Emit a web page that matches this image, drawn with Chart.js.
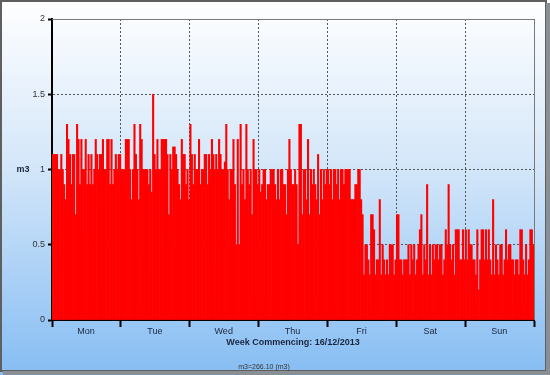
<!DOCTYPE html>
<html>
<head>
<meta charset="utf-8">
<script src="https://cdn.jsdelivr.net/npm/chart.js@4.4.0/dist/chart.umd.min.js"></script>
<style>
  html, body { margin: 0; padding: 0; background: #fff; }
  #wrap { width: 550px; height: 375px; }
</style>
</head>
<body>
<div id="wrap"><canvas id="myChart" width="550" height="375"></canvas></div>
<script>
// half-hourly readings (m3), 48 per day
let dayNames = ["Mon", "Tue", "Wed", "Thu", "Fri", "Sat", "Sun"];
let mon = [1.1,1.1,1.1,1.1,1.0,1.0,1.1,1.0,0.9,0.8,1.3,1.2,1.1,0.9,1.1,1.1,0.7,1.3,1.2,0.9,1.2,1.0,1.0,1.2,
    0.9,1.1,0.9,1.1,0.9,1.0,1.2,1.1,1.0,1.1,1.1,1.2,1.0,1.0,1.2,1.2,0.9,1.2,0.9,1.0,1.1,1.0,1.1,1.1];
let tue = [1.0,1.0,1.0,1.2,1.2,1.2,1.0,0.8,1.0,1.3,1.1,1.0,0.8,1.3,1.2,1.0,1.0,1.0,1.0,0.9,
    1.0,0.85,1.5,1.1,1.0,1.2,1.0,1.0,1.2,1.2,1.2,1.2,1.1,0.7,1.1,1.0,1.15,1.15,1.1,1.0,0.9,0.8,1.2,1.1,1.1,0.9,1.0,0.8];
let wed = [1.3,1.1,0.9,1.1,1.0,1.0,1.2,0.9,1.0,1.0,1.1,1.1,0.9,1.1,1.0,1.2,1.1,1.0,1.1,1.0,
    1.2,1.1,1.0,1.0,1.05,1.3,1.0,0.8,1.0,1.0,1.2,0.9,0.5,1.2,0.5,1.3,0.9,1.0,0.8,1.3,
    1.0,0.9,1.0,0.7,1.2,1.0,1.0,0.9];
let thu = [1.0,0.85,0.9,1.0,1.0,0.8,0.9,0.9,1.0,1.0,1.0,0.9,0.8,1.0,0.8,1.0,1.0,0.9,0.9,0.7,1.0,1.2,1.0,0.9,
    0.9,1.0,0.9,0.5,1.3,1.3,0.7,1.0,1.0,0.8,1.2,0.7,1.0,0.9,1.0,0.9,0.8,1.1,0.7,1.0,0.8,1.0,0.9,1.0];
let fri = [1.0,0.9,1.0,0.8,1.0,1.0,0.9,1.0,0.8,1.0,1.0,0.9,
    1.0,1.0,1.0,1.0,0.8,0.8,0.8,0.9,0.9,1.0,1.0,0.8,0.7,0.3,0.5,0.5,0.4,0.3,0.7,0.7,0.6,0.3,0.4,0.4,
    0.8,0.3,0.5,0.4,0.3,0.4,0.3,0.5,0.5,0.5,0.3,0.4];
let sat = [0.7,0.7,0.4,0.4,0.3,0.4,0.4,0.4,0.5,0.3,0.5,0.4,0.5,0.3,0.4,0.5,0.6,0.7,0.3,0.5,0.4,0.9,0.3,0.5,
    0.3,0.5,0.4,0.5,0.5,0.4,0.5,0.5,0.3,0.4,0.6,0.5,0.9,0.5,0.4,0.5,0.3,0.6,0.6,0.6,0.4,0.4,0.6,0.4];
let sun = [0.6,0.4,0.6,0.5,0.5,0.4,0.4,0.3,0.6,0.2,0.4,0.6,0.6,0.4,0.6,0.4,0.6,0.4,0.3,0.8,
    0.3,0.5,0.4,0.3,0.5,0.5,0.3,0.4,0.6,0.4,0.5,0.5,0.4,0.4,0.3,0.4,0.4,0.3,0.6,0.6,
    0.4,0.3,0.5,0.3,0.4,0.6,0.6,0.5];
let yTicks = [0, 0.5, 1, 1.5, 2];
let totalLabel = "m3=266.10 (m3)";
let xTitle = "Week Commencing: 16/12/2013";

let readings = [].concat(mon, tue, wed, thu, fri, sat, sun);
let points = readings.map((v, i) => ({ x: i + 0.5, y: v }));
let dayStarts = dayNames.map((d, i) => i * 48).concat([336]);

// background gradient, frame, extra labels
let decor = {
    id: "decor",
    beforeDraw(chart) {
        let ctx = chart.ctx;
        let g = ctx.createLinearGradient(0, 0, 0, 375);
        g.addColorStop(0, "#ffffff");
        g.addColorStop(0.45, "#d3e6f9");
        g.addColorStop(1, "#86bdf3");
        ctx.save();
        ctx.fillStyle = g;
        ctx.fillRect(0, 0, 550, 375);
        ctx.restore();
    },
    afterDraw(chart) {
        let ctx = chart.ctx;
        let a = chart.chartArea;
        ctx.save();
        // plot frame (top/right)
        ctx.strokeStyle = "#7a7a7a";
        ctx.lineWidth = 1;
        ctx.beginPath();
        ctx.moveTo(a.left, a.top + 0.5);
        ctx.lineTo(a.right + 0.5, a.top + 0.5);
        ctx.lineTo(a.right + 0.5, a.bottom);
        ctx.stroke();
        // outer frame
        ctx.strokeStyle = "#5f5f5f";
        ctx.lineWidth = 2;
        ctx.strokeRect(1, 1, 545, 370);
        ctx.fillStyle = "#8a8f96";
        ctx.fillRect(546, 3, 4, 372);
        ctx.fillRect(3, 371, 547, 4);
        // y axis title
        ctx.fillStyle = "#1a2640";
        ctx.font = "bold 9px 'Liberation Sans', Arial, sans-serif";
        ctx.textAlign = "center";
        ctx.textBaseline = "middle";
        ctx.fillText("m3", 23, 170);
        // total
        ctx.fillStyle = "#333";
        ctx.font = "7px 'Liberation Sans', Arial, sans-serif";
        ctx.fillText(totalLabel, 264, 367);
        ctx.restore();
    }
};

let myChart = document.getElementById("myChart").getContext("2d");
let usageChart = new Chart(myChart, {
    type: "bar",
    data: {
        datasets: [{
            label: "m3",
            data: points,
            backgroundColor: "#ff0000",
            borderWidth: 0,
            barPercentage: 1,
            categoryPercentage: 1
        }]
    },
    options: {
        responsive: false,
        animation: false,
        layout: { padding: { top: 19, right: 16, left: 0, bottom: 0 } },
        plugins: {
            legend: { display: false },
            tooltip: { enabled: false }
        },
        scales: {
            x: {
                type: "linear",
                min: 0,
                max: 336,
                offset: false,
                afterBuildTicks: (s) => { s.ticks = dayStarts.map(v => ({ value: v })); },
                afterFit: (s) => { s.height = 55; },
                grid: {
                    offset: false,
                    color: "#555",
                    lineWidth: 1,
                    tickColor: "#000",
                    tickWidth: 2,
                    tickLength: 7
                },
                border: { color: "#000", width: 2, dash: [2, 2] },
                ticks: {
                    autoSkip: false,
                    maxRotation: 0,
                    padding: -1,
                    labelOffset: 34,
                    color: "#1a2640",
                    font: { family: "'Liberation Sans', Arial, sans-serif", size: 9 },
                    callback: (v) => dayNames[v / 48] || ""
                },
                title: {
                    display: true,
                    text: xTitle,
                    color: "#1a2640",
                    font: { family: "'Liberation Sans', Arial, sans-serif", size: 9, weight: "bold" },
                    padding: { top: 0, bottom: 27 }
                }
            },
            y: {
                min: 0,
                max: 2,
                afterBuildTicks: (s) => { s.ticks = yTicks.map(v => ({ value: v })); },
                afterFit: (s) => { s.width = 52; },
                grid: {
                    color: "#555",
                    lineWidth: 1,
                    tickColor: "#000",
                    tickWidth: 2,
                    tickLength: 4
                },
                border: { color: "#000", width: 2, dash: [2, 2] },
                ticks: {
                    padding: 3,
                    color: "#333",
                    font: { family: "'Liberation Sans', Arial, sans-serif", size: 9 },
                    callback: (v) => String(v)
                }
            }
        }
    },
    plugins: [decor]
});
</script>
</body>
</html>
